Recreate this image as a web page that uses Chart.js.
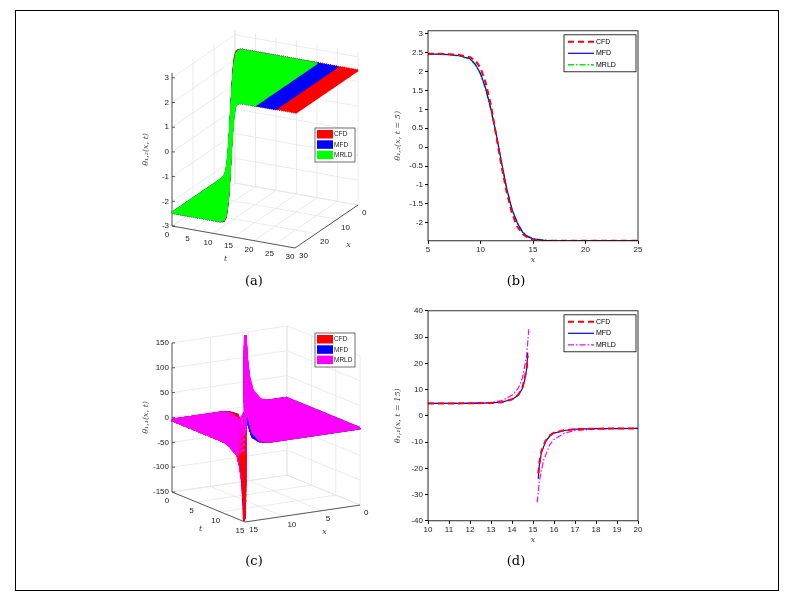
<!DOCTYPE html>
<html>
<head>
<meta charset="utf-8">
<script src="https://cdn.jsdelivr.net/npm/chart.js@4.4.1/dist/chart.umd.min.js"></script>
<style>
  body { margin:0; background:#fff; width:793px; height:603px; position:relative; overflow:hidden; }
  #frame { position:absolute; left:15px; top:10px; width:762px; height:579px; border:1px solid #000; }
  canvas { position:absolute; }
  .cap { position:absolute; font-family:"DejaVu Serif","Liberation Serif",serif; font-size:13px; color:#000; width:40px; text-align:center; }
</style>
</head>
<body>
<div id="frame"></div>
<canvas id="pa" width="280" height="260" style="left:110px;top:20px"></canvas>
<canvas id="pb" width="255" height="250" style="left:393px;top:24px"></canvas>
<canvas id="pc" width="280" height="260" style="left:110px;top:300px"></canvas>
<canvas id="pd" width="255" height="250" style="left:393px;top:304px"></canvas>
<div class="cap" style="left:234px;top:273px">(a)</div>
<div class="cap" style="left:496px;top:273px">(b)</div>
<div class="cap" style="left:234px;top:553px">(c)</div>
<div class="cap" style="left:496px;top:553px">(d)</div>
<script>
// ---- panel (b): theta_12(x, t=5)
const B_X    = [5, 6, 7, 8, 9, 9.5, 10, 10.5, 11, 11.5, 12, 12.5, 13, 13.5, 14, 14.5, 15, 16, 17, 20, 25];
const B_CFD  = [2.47, 2.47, 2.46, 2.44, 2.38, 2.3, 2.1, 1.7, 1.1, 0.3, -0.5, -1.2, -1.75, -2.1, -2.3, -2.4, -2.45, -2.48, -2.48, -2.48, -2.48];
const B_MFD  = [2.46, 2.46, 2.45, 2.42, 2.34, 2.2, 1.95, 1.55, 1.0, 0.35, -0.4, -1.1, -1.65, -2.0, -2.25, -2.37, -2.43, -2.47, -2.48, -2.48, -2.48];
const B_MRLD = [2.46, 2.46, 2.45, 2.41, 2.33, 2.18, 1.93, 1.52, 0.97, 0.32, -0.42, -1.1, -1.64, -2.0, -2.24, -2.36, -2.42, -2.46, -2.48, -2.48, -2.48];
const B_YTICKS = [-2, -1.5, -1, -0.5, 0, 0.5, 1, 1.5, 2, 2.5, 3];
const B_XTICKS = [5, 10, 15, 20, 25];

// ---- panel (d): theta_11(x, t=15), pole near x = 15
const D_X_L   = [10, 11, 12, 13, 13.5, 14, 14.3, 14.5, 14.6, 14.7, 14.75];
const D_CFD_L = [4.7, 4.7, 4.75, 4.9, 5.2, 6.3, 8, 11, 14, 18, 23];
const D_MFD_L = [4.7, 4.7, 4.75, 4.9, 5.2, 6.2, 7.8, 10.5, 13.5, 18, 24];
const D_X_R   = [15.25, 15.3, 15.4, 15.6, 15.8, 16, 16.5, 17, 18, 20];
const D_CFD_R = [-22, -18, -13.5, -9.5, -7.5, -6.4, -5.5, -5.1, -4.9, -4.8];
const D_MFD_R = [-24, -19, -14, -9.8, -7.7, -6.6, -5.6, -5.1, -4.9, -4.8];
const D_MR_XL = [10, 11, 12, 13, 13.5, 14, 14.3, 14.5, 14.7, 14.8];
const D_MRLD_L = [4.7, 4.7, 4.8, 5.1, 5.8, 7.8, 10.5, 14.5, 23, 33];
const D_MR_XR = [15.2, 15.3, 15.5, 15.8, 16, 16.5, 17, 18, 20];
const D_MRLD_R = [-33, -25, -17, -11, -9, -6.6, -5.6, -5.0, -4.8];
const D_YTICKS = [-40, -30, -20, -10, 0, 10, 20, 30, 40];
const D_XTICKS = [10, 11, 12, 13, 14, 15, 16, 17, 18, 19, 20];

// ---- panel (a): surface theta_12(x,t); kink travels with speed
const A_SPEED = 2;
const A_TTICKS = [0, 5, 10, 15, 20, 25, 30];
const A_XTICKS = [0, 10, 20, 30];
const A_ZTICKS = [-3, -2, -1, 0, 1, 2, 3];
const A_TMAX = { CFD: 30, MFD: 25, MRLD: 20 };

// ---- panel (c): surface theta_11(x,t); profile around the moving pole
const C_D     = [-15, -3, -2, -1, -0.5, -0.25, -0.1, -0.03, 0.03, 0.1, 0.3, 0.6, 1, 2, 3, 15];
const C_CFD   = [5, 5, 8, 20, 45, 80, 120, 150, -150, -120, -60, -30, -14, -7, -5, -5];
const C_MRLD  = [5, 5, 10, 30, 60, 95, 130, 150, -150, -130, -80, -45, -22, -9, -5, -5];
const C_POLE0 = 5.5, C_POLE_SPEED = 0.633;
const C_TTICKS = [0, 5, 10, 15];
const C_XTICKS = [0, 5, 10, 15];
const C_ZTICKS = [-150, -100, -50, 0, 50, 100, 150];

const TICKFONT = { family: 'Liberation Sans, Arial, sans-serif', size: 8 };

function interp(xs, ys, x) {
  if (x <= xs[0]) return ys[0];
  if (x >= xs[xs.length - 1]) return ys[ys.length - 1];
  for (let i = 1; i < xs.length; i++) {
    if (x <= xs[i]) { const f = (x - xs[i-1]) / (xs[i] - xs[i-1]); return ys[i-1] + f * (ys[i] - ys[i-1]); }
  }
}
function pts(xs, ys) { return xs.map((x, i) => ({ x: x, y: ys[i] })); }

// 2D line charts -------------------------------------------------
const boxLegend = {
  id: 'boxLegend',
  afterDraw(chart, args, opts) {
    const c = chart.ctx, a = chart.chartArea;
    c.save();
    c.strokeStyle = '#000'; c.lineWidth = 0.8;
    c.strokeRect(a.left, a.top, a.right - a.left, a.bottom - a.top);
    const w = 72, h = 37, x0 = a.right - w - 2, y0 = a.top + 4;
    c.fillStyle = '#fff'; c.fillRect(x0, y0, w, h); c.strokeRect(x0, y0, w, h);
    c.font = '7px Liberation Sans, Arial, sans-serif'; c.textBaseline = 'middle';
    chart.data.datasets.filter(d => d.showInLegend).forEach((d, i) => {
      const y = y0 + 7 + i * 11.5;
      c.strokeStyle = d.borderColor; c.lineWidth = d.borderWidth; c.setLineDash(d.borderDash || []);
      c.beginPath(); c.moveTo(x0 + 4, y); c.lineTo(x0 + 30, y); c.stroke();
      c.setLineDash([]); c.fillStyle = '#000'; c.fillText(d.label, x0 + 32, y);
    });
    c.restore();
  }
};

function lineChart(id, datasets, xmin, xmax, xticks, ymin, ymax, yticks, ylabel) {
  new Chart(document.getElementById(id), {
    type: 'scatter',
    data: { datasets: datasets },
    options: {
      responsive: false, animation: false,
      layout: { padding: { top: 4, right: 10, bottom: 9 } },
      plugins: { legend: { display: false }, tooltip: { enabled: false } },
      elements: { point: { radius: 0 } },
      scales: {
        x: { type: 'linear', min: xmin, max: xmax,
             afterBuildTicks: s => { s.ticks = xticks.map(v => ({ value: v })); },
             grid: { drawOnChartArea: false, tickLength: 3, color: '#000' },
             ticks: { font: TICKFONT, color: '#222', maxRotation: 0, padding: 1, callback: v => String(v) },
             title: { display: true, text: 'x', font: { family: 'DejaVu Serif', style: 'italic', size: 8 }, color: '#444', padding: 0 } },
        y: { type: 'linear', min: ymin, max: ymax,
             afterBuildTicks: s => { s.ticks = yticks.map(v => ({ value: v })); },
             afterFit: s => { s.width = 35; },
             grid: { drawOnChartArea: false, tickLength: 3, color: '#000' },
             ticks: { font: TICKFONT, color: '#222', padding: 2, callback: v => String(v) },
             title: { display: true, text: ylabel, font: { family: 'DejaVu Serif', style: 'italic', size: 8 }, color: '#444', padding: 0 } }
      }
    },
    plugins: [boxLegend]
  });
}

lineChart('pb', [
  { label: 'CFD', showInLegend: true, data: pts(B_X, B_CFD), showLine: true, borderColor: '#ff0000', borderWidth: 2, borderDash: [6, 4] },
  { label: 'MFD', showInLegend: true, data: pts(B_X, B_MFD), showLine: true, borderColor: '#0000ff', borderWidth: 1.2 },
  { label: 'MRLD', showInLegend: true, data: pts(B_X, B_MRLD), showLine: true, borderColor: '#00ee00', borderWidth: 1.5, borderDash: [6, 2, 1.5, 2] }
], 5, 25, B_XTICKS, -2.48, 3.08, B_YTICKS, 'θ₁,₂(x, t = 5)');

lineChart('pd', [
  { label: 'CFD', showInLegend: true, data: pts(D_X_L, D_CFD_L), showLine: true, borderColor: '#ff0000', borderWidth: 2, borderDash: [6, 4] },
  { label: 'MFD', showInLegend: true, data: pts(D_X_L, D_MFD_L), showLine: true, borderColor: '#0000ff', borderWidth: 1.2 },
  { label: 'MRLD', showInLegend: true, data: pts(D_MR_XL, D_MRLD_L), showLine: true, borderColor: '#ff00ff', borderWidth: 1.2, borderDash: [6, 2, 1.5, 2] },
  { label: 'CFD', data: pts(D_X_R, D_CFD_R), showLine: true, borderColor: '#ff0000', borderWidth: 2, borderDash: [6, 4] },
  { label: 'MFD', data: pts(D_X_R, D_MFD_R), showLine: true, borderColor: '#0000ff', borderWidth: 1.2 },
  { label: 'MRLD', data: pts(D_MR_XR, D_MRLD_R), showLine: true, borderColor: '#ff00ff', borderWidth: 1.2, borderDash: [6, 2, 1.5, 2] }
], 10, 20, D_XTICKS, -40, 40, D_YTICKS, 'θ₁,₁(x, t = 15)');

// 3D surface charts ----------------------------------------------
// canvas-local projections (canvas offsets 110,20 and 110,300)
function projA(t, x, z) {
  return { x: 172 + 4.1 * t - 2.1 * (x - 30) - 110, y: 226 + 0.733 * t + 1.433 * (x - 30) - 24.7 * (z + 3) - 20 };
}
function projC(t, x, z) {
  return { x: 172 + 4.87 * t - 7.67 * (x - 15) - 110, y: 492 + 2 * t + 1.13 * (x - 15) - 0.497 * (z + 150) - 300 };
}

function frame3d(cfg) {
  return {
    id: 'frame3d',
    beforeDatasetsDraw(chart) {
      const c = chart.ctx, P = cfg.proj;
      const [t0, t1] = cfg.t, [x0, x1] = cfg.x, [z0, z1] = cfg.z;
      const line = (a, b) => { c.beginPath(); c.moveTo(a.x, a.y); c.lineTo(b.x, b.y); c.stroke(); };
      c.save();
      c.strokeStyle = '#e2e2e2'; c.lineWidth = 0.7;
      cfg.tt.forEach(t => { line(P(t, x0, z0), P(t, x0, z1)); line(P(t, x0, z0), P(t, x1, z0)); });
      cfg.xt.forEach(x => { line(P(t0, x, z0), P(t0, x, z1)); line(P(t0, x, z0), P(t1, x, z0)); });
      cfg.zt.forEach(z => { line(P(t0, x1, z), P(t0, x0, z)); line(P(t0, x0, z), P(t1, x0, z)); });
      c.strokeStyle = '#333'; c.lineWidth = 0.8;
      line(P(t0, x1, z0), P(t0, x1, z1));
      line(P(t0, x1, z0), P(t1, x1, z0));
      line(P(t1, x1, z0), P(t1, x0, z0));
      c.fillStyle = '#222'; c.font = '8px Liberation Sans, Arial, sans-serif'; c.textBaseline = 'middle';
      c.textAlign = 'right';
      cfg.zt.forEach(z => { const p = P(t0, x1, z); line(p, { x: p.x + 3, y: p.y }); c.fillText(String(z), p.x - 3, p.y); });
      c.textAlign = 'center';
      cfg.tt.forEach(t => { const p = P(t, x1, z0); c.fillText(String(t), p.x - 5, p.y + 9); });
      c.textAlign = 'left';
      cfg.xt.forEach(x => { const p = P(t1, x, z0); c.fillText(String(x), p.x + 4, p.y + 8); });
      c.font = 'italic 8px DejaVu Serif, serif'; c.fillStyle = '#444'; c.textAlign = 'center';
      const pt = P((t0 + t1) / 2, x1, z0); c.fillText('t', pt.x - 8, pt.y + 22);
      const px = P(t1, (x0 + x1) / 2, z0); c.fillText('x', px.x + 22, px.y + 18);
      const pz = P(t0, x1, (z0 + z1) / 2);
      c.translate(pz.x - 26, pz.y); c.rotate(-Math.PI / 2); c.fillText(cfg.zlabel, 0, 0);
      c.restore();
    },
    afterDraw(chart) {
      const c = chart.ctx, L = cfg.legend;
      c.save();
      c.fillStyle = '#fff'; c.strokeStyle = '#333'; c.lineWidth = 0.7;
      c.fillRect(L.x, L.y, 40, 34); c.strokeRect(L.x, L.y, 40, 34);
      c.font = '6.5px Liberation Sans, Arial, sans-serif'; c.textBaseline = 'middle';
      L.items.forEach((it, i) => {
        const y = L.y + 2 + i * 10.3;
        c.fillStyle = it[1]; c.fillRect(L.x + 2, y, 16, 8.5);
        c.fillStyle = '#222'; c.fillText(it[0], L.x + 19, y + 4.5);
      });
      c.restore();
    }
  };
}

// Chart.js paints the first dataset on top, so reverse to get painter's order
function surf3d(id, w, h, datasets, plugin) {
  new Chart(document.getElementById(id), {
    type: 'scatter',
    data: { datasets: datasets.slice().reverse() },
    options: {
      responsive: false, animation: false,
      layout: { padding: 0 },
      plugins: { legend: { display: false }, tooltip: { enabled: false } },
      elements: { point: { radius: 0 } },
      scales: { x: { type: 'linear', min: 0, max: w, display: false },
                y: { type: 'linear', min: 0, max: h, reverse: true, display: false } }
    },
    plugins: [plugin]
  });
}

// (a)
const A_XS = []; for (let x = 0; x <= 30; x += 0.5) A_XS.push(x);
const aSets = [];
[['CFD', B_CFD, '#ff0000'], ['MFD', B_MFD, '#0000ff'], ['MRLD', B_MRLD, '#00ff00']].forEach(([name, prof, col]) => {
  for (let t = 0; t <= A_TMAX[name]; t += 0.5) {
    const data = A_XS.map(x => projA(t, x, interp(B_X, prof, x - A_SPEED * (t - 5))));
    aSets.push({ data: data, showLine: true, borderColor: col, borderWidth: 2.6 });
  }
});
surf3d('pa', 280, 260, aSets, frame3d({
  proj: projA, t: [0, 30], x: [0, 30], z: [-3, 3.2], tt: A_TTICKS, xt: A_XTICKS, zt: A_ZTICKS,
  zlabel: 'θ₁,₂(x, t)',
  legend: { x: 205, y: 108, items: [['CFD', '#ff0000'], ['MFD', '#0000ff'], ['MRLD', '#00ff00']] }
}));

// (c)
const C_XS = []; for (let x = 0; x <= 15; x += 0.05) C_XS.push(+x.toFixed(2));
const cSets = [];
function cSide(prof, col, pos, zmin) {
  for (let t = 0; t <= 15; t += 0.25) {
    const xp = C_POLE0 + C_POLE_SPEED * t;
    const xs = C_XS.filter(x => pos ? x < xp : x > xp);
    const data = xs.map(x => ({ x: x, z: interp(C_D, prof, x - xp) }))
                   .filter(p => p.z >= zmin)
                   .map(p => projC(t, p.x, p.z));
    cSets.push({ data: data, showLine: true, borderColor: col, borderWidth: 2.6 });
  }
}
cSide(C_MRLD, '#ff00ff', false, -150);
cSide(C_CFD, '#0000ff', false, -150);
cSide(C_CFD, '#ff0000', false, -150);
cSide(C_MRLD, '#ff00ff', false, -25);
cSide(C_CFD, '#ff0000', true, -150);
cSide(C_CFD, '#0000ff', true, -150);
cSide(C_MRLD, '#ff00ff', true, -150);
surf3d('pc', 280, 260, cSets, frame3d({
  proj: projC, t: [0, 15], x: [0, 15], z: [-150, 150], tt: C_TTICKS, xt: C_XTICKS, zt: C_ZTICKS,
  zlabel: 'θ₁,₁(x, t)',
  legend: { x: 205, y: 33, items: [['CFD', '#ff0000'], ['MFD', '#0000ff'], ['MRLD', '#ff00ff']] }
}));
</script>
</body>
</html>
